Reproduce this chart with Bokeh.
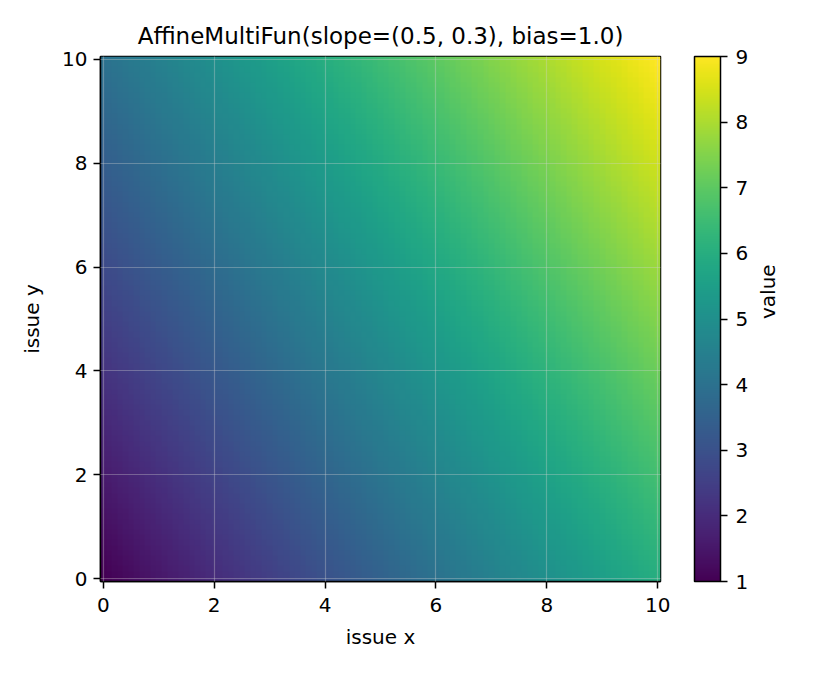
import numpy as np
from bokeh.plotting import figure
from bokeh.models import LinearColorMapper, ColorBar, FixedTicker, Range1d, LinearAxis, Label
from bokeh.palettes import Viridis256
from bokeh.embed import file_html
from bokeh.resources import INLINE

TITLE = "AffineMultiFun(slope=(0.5, 0.3), bias=1.0)"
slope = [0.5, 0.3]
bias = 1.0
issue_x = np.linspace(0.0, 10.0, 101)
issue_y = np.linspace(0.0, 10.0, 101)
x_ticks = [0, 2, 4, 6, 8, 10]
y_ticks = [0, 2, 4, 6, 8, 10]
cbar_ticks = [1, 2, 3, 4, 5, 6, 7, 8, 9]
value_low = 1.0
value_high = 9.0

XX, YY = np.meshgrid(issue_x, issue_y)
values = bias + slope[0] * XX + slope[1] * YY

step = issue_x[1] - issue_x[0]
x0 = issue_x[0] - step / 2
x1 = issue_x[-1] + step / 2
y0 = issue_y[0] - step / 2
y1 = issue_y[-1] + step / 2

FONT = "DejaVu Sans"
TICK = "20px"

p = figure(
    frame_width=560, frame_height=525,
    min_border_left=100, min_border_top=56, min_border_right=150, min_border_bottom=86,
    x_range=Range1d(x0, x1), y_range=Range1d(y0, y1),
    output_backend="svg", toolbar_location=None, title=TITLE,
)
p.title.text_font = FONT
p.title.text_font_size = "23px"
p.title.text_font_style = "normal"
p.title.text_color = "black"
p.title.align = "center"
p.title.standoff = 15

mapper = LinearColorMapper(palette=Viridis256, low=value_low, high=value_high)
p.image(image=[values], x=x0, y=y0, dw=x1 - x0, dh=y1 - y0, color_mapper=mapper)

for ax in (p.xaxis[0], p.yaxis[0]):
    ax.major_label_text_font = FONT
    ax.major_label_text_font_size = TICK
    ax.major_label_text_color = "black"
    ax.axis_label_text_font = FONT
    ax.axis_label_text_font_size = TICK
    ax.axis_label_text_font_style = "normal"
    ax.axis_label_text_color = "black"
    ax.minor_tick_line_color = None
    ax.major_tick_out = 7
    ax.major_tick_in = 0
    ax.major_tick_line_width = 1.5
    ax.axis_line_width = 1.5

p.xaxis.ticker = FixedTicker(ticks=x_ticks)
p.yaxis.ticker = FixedTicker(ticks=y_ticks)
p.xaxis.axis_label = "issue x"
p.yaxis.axis_label = "issue y"
p.xaxis.major_label_standoff = 9
p.yaxis.major_label_standoff = 6
p.xaxis.axis_label_standoff = 10
p.yaxis.axis_label_standoff = 15

p.xgrid.ticker = FixedTicker(ticks=x_ticks)
p.ygrid.ticker = FixedTicker(ticks=y_ticks)
for g in (p.xgrid[0], p.ygrid[0]):
    g.grid_line_color = "#d0d0d0"
    g.grid_line_alpha = 0.35
    g.grid_line_width = 1.2
    g.level = "overlay"

p.outline_line_color = "black"
p.outline_line_width = 1.5
p.outline_line_alpha = 1.0

# invisible spacer between the frame and the colour bar
spacer = LinearAxis(ticker=FixedTicker(ticks=[(y0 + y1) / 2]), axis_line_color=None,
                    major_tick_out=34, major_tick_in=0, major_tick_line_color=None,
                    minor_tick_out=0, minor_tick_in=0, minor_tick_line_color=None,
                    major_label_standoff=0, major_label_text_font_size="1px",
                    major_label_text_color=None)
p.add_layout(spacer, "right")

cb = ColorBar(
    color_mapper=mapper, ticker=FixedTicker(ticks=cbar_ticks),
    width=26, padding=0, margin=0,
    bar_line_color="black", bar_line_width=1.5,
    major_tick_out=7, major_tick_in=0, major_tick_line_color="black", major_tick_line_width=1.5,
    minor_tick_line_color=None,
    major_label_text_font=FONT, major_label_text_font_size=TICK, major_label_text_color="black",
    label_standoff=8, border_line_color=None, background_fill_color=None,
)
p.add_layout(cb, "right")

has_orient = "axis_label_orientation" in LinearAxis.properties()
if has_orient:
    value_axis = LinearAxis(ticker=FixedTicker(ticks=[]), axis_line_color=None,
                            major_tick_out=0, major_tick_in=0, major_tick_line_color=None,
                            minor_tick_out=0, minor_tick_in=0, minor_tick_line_color=None,
                            major_label_standoff=0, axis_label="value",
                            axis_label_standoff=16,
                            axis_label_text_font=FONT, axis_label_text_font_size=TICK,
                            axis_label_text_font_style="normal", axis_label_text_color="black")
    value_axis.axis_label_orientation = float(np.pi / 2)
    p.add_layout(value_axis, "right")
else:
    lab = Label(x=12.0, y=(y0 + y1) / 2, text="value", angle=np.pi / 2,
                text_align="center", text_baseline="middle",
                text_font=FONT, text_font_size=TICK, text_color="black")
    p.add_layout(lab)

open("out.html", "w").write(file_html(p, INLINE))
